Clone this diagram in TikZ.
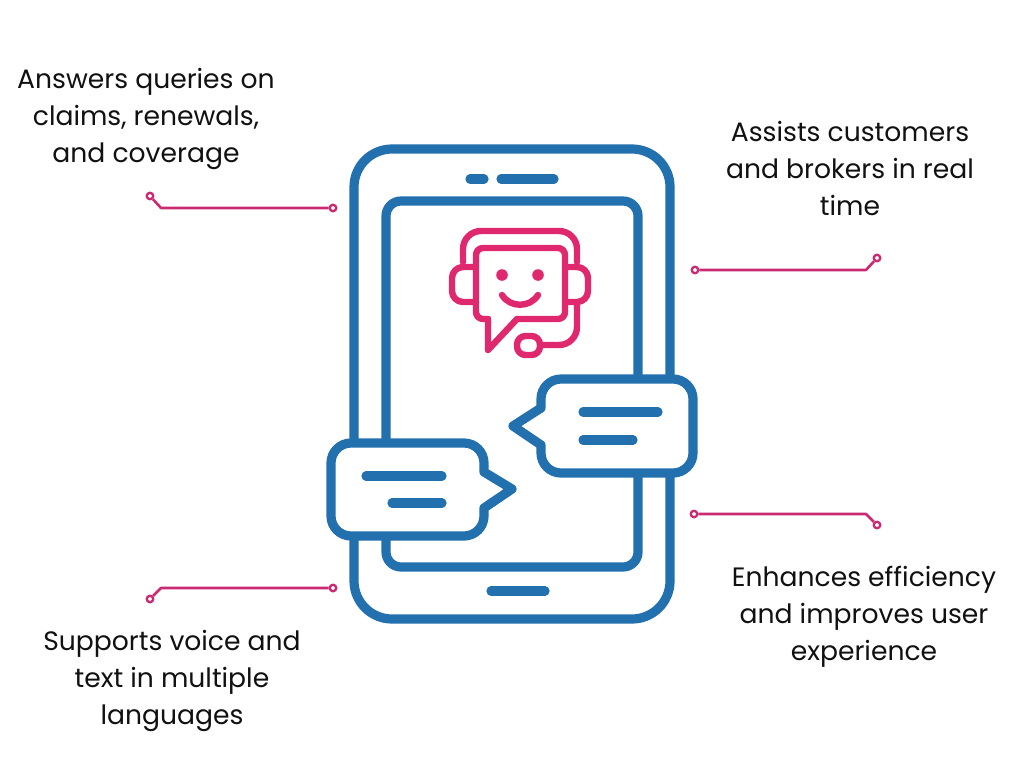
\documentclass[tikz,border=0pt]{standalone}
\usepackage{fontspec}
\setmainfont{Poppins}
\definecolor{phoneblue}{HTML}{2270AE}
\definecolor{iconpink}{HTML}{E0286F}
\definecolor{linkpink}{HTML}{C92A72}
\definecolor{inktext}{HTML}{111111}
\tikzset{
  phoneline/.style={draw=phoneblue,line width=9.2pt,line join=round,line cap=round},
  bubble/.style={phoneline,fill=white},
  iconline/.style={draw=iconpink,line width=6.4pt,line join=round,line cap=round},
  dot/.style={circle,draw=linkpink,fill=white,line width=2.3pt,minimum size=6.5pt,inner sep=0pt},
  link/.style={draw=linkpink,line width=2.6pt,line join=round},
  caption/.style={text=inktext,font=\fontsize{26.6}{37}\selectfont,align=center,inner sep=0pt,anchor=center}
}
\begin{document}
\begin{tikzpicture}[x=1pt,y=-1pt]
\useasboundingbox (0,0) rectangle (1024,768);
\fill[white] (0,0) rectangle (1024,768);
% phone
\draw[phoneline,rounded corners=38pt] (354,149) rectangle (670,619);
\draw[phoneline,rounded corners=15pt] (386,201) rectangle (638,567);
\draw[phoneline] (470,179) -- (484,179);
\draw[phoneline] (501,179) -- (554,179);
\draw[phoneline] (491,591) -- (545,591);
% bubbles
\draw[bubble] (513,426) -- (541,408) -- (541,399) arc[start angle=180,end angle=270,radius=20]
  -- (673,379) arc[start angle=270,end angle=360,radius=20] -- (693,453) arc[start angle=0,end angle=90,radius=20]
  -- (561,473) arc[start angle=90,end angle=180,radius=20] -- (541,445) -- cycle;
\draw[phoneline] (583,412) -- (658,412);
\draw[phoneline] (583,440) -- (633,440);
\draw[bubble] (512,489) -- (484,472) -- (484,463) arc[start angle=360,end angle=270,radius=20]
  -- (351,443) arc[start angle=270,end angle=180,radius=20] -- (331,516) arc[start angle=180,end angle=90,radius=20]
  -- (464,536) arc[start angle=90,end angle=0,radius=20] -- (484,508) -- cycle;
\draw[phoneline] (366,476) -- (442,476);
\draw[phoneline] (392,503) -- (442,503);
% agent icon
\draw[iconline] (463,262) -- (463,249) arc[start angle=180,end angle=270,radius=18] -- (559,231) arc[start angle=270,end angle=360,radius=18] -- (577,262);
\draw[iconline] (476,267) -- (463,267) arc[start angle=270,end angle=180,radius=11] -- (452,291) arc[start angle=180,end angle=90,radius=11] -- (476,302);
\draw[iconline] (565,267) -- (577,267) arc[start angle=270,end angle=360,radius=11] -- (588,291) arc[start angle=0,end angle=90,radius=11] -- (565,302);
\draw[iconline,rounded corners=7pt] (488,319) -- (476,319) -- (476,248) -- (565,248) -- (565,319) -- (517,319);
\draw[iconline] (517,319) -- (488,350) -- (488,319);
\draw[iconline] (577,303) -- (577,327) arc[start angle=0,end angle=90,radius=18] -- (540,345);
\draw[iconline,rounded corners=8.5pt] (517,336) rectangle (540,355);
\fill[iconpink] (502,275) circle[radius=5.8] (538,275) circle[radius=5.8];
\draw[iconline] (502,295) .. controls (510,308) and (530,308) .. (538,295);
% connectors
\node[dot] (tla) at (150,196) {};
\node[dot] (tlb) at (333,208) {};
\coordinate (tlk) at (161,208);
\draw[link] (tla) -- (tlk) -- (tlb);
\node[dot] (tra) at (695,270) {};
\node[dot] (trb) at (877,258) {};
\coordinate (trk) at (866,270);
\draw[link] (tra) -- (trk) -- (trb);
\node[dot] (bra) at (694,514) {};
\node[dot] (brb) at (877,525) {};
\coordinate (brk) at (866,514);
\draw[link] (bra) -- (brk) -- (brb);
\node[dot] (bla) at (333,588) {};
\node[dot] (blb) at (150,599) {};
\coordinate (blk) at (161,588);
\draw[link] (bla) -- (blk) -- (blb);
% captions
\node[caption] (captl) at (146,118.5) {Answers queries on\\claims, renewals,\\and coverage};
\node[caption] (captr) at (850,168.3) {Assists customers\\and brokers in real\\time};
\node[caption] (capbr) at (864,616.5) {Enhances efficiency\\and improves user\\experience};
\node[caption] (capbl) at (172,681) {Supports voice and\\text in multiple\\languages};
\end{tikzpicture}
\end{document}
